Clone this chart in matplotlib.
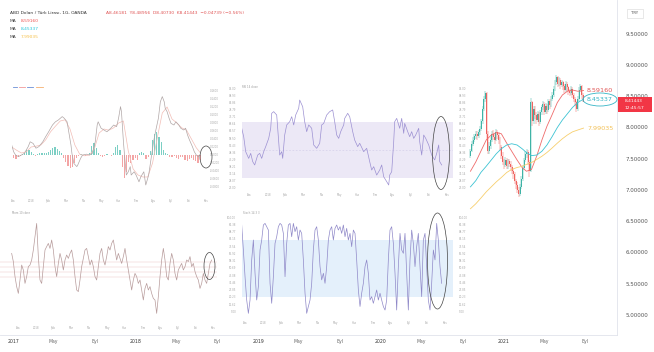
import matplotlib
matplotlib.use('Agg')
import matplotlib.pyplot as plt
import matplotlib.dates as mdates
from matplotlib.patches import Ellipse, Rectangle
from matplotlib.lines import Line2D
import numpy as np
import pandas as pd

W, H = 654, 352

# ------------------------------------------------------------------ data
header_title = "ABD Doları / Türk Lirası, 1G, OANDA"
header_ohlc = "A8.46181  Y8.48956  D8.40730  K8.41443  −0.04739 (−0.56%)"
last_price = 8.41443
last_time = "12:45:57"

price_start = '2020-09-24'          # candles every 4 days
price_first_open = 7.55
price_close = [7.62, 7.74,
               7.80, 7.86, 7.90, 7.86, 7.92, 7.97, 8.10, 8.30,
               8.45, 8.55, 7.90, 7.62, 7.70, 7.80, 7.90,
               7.85, 7.80, 7.92, 7.88, 7.80, 7.68, 7.55, 7.45,
               7.40, 7.48, 7.38, 7.46, 7.42, 7.36, 7.30, 7.25,
               7.15, 7.08, 7.00, 6.93, 7.05, 7.18, 7.35,
               7.48, 7.58, 7.60, 7.45, 7.30, 8.40, 8.10, 8.30,
               8.20, 8.12, 8.22, 8.08, 8.24, 8.32, 8.38,
               8.25, 8.35, 8.28, 8.42, 8.36, 8.46, 8.52, 8.62,
               8.72, 8.80, 8.70, 8.76, 8.68, 8.72, 8.66,
               8.60, 8.70, 8.64, 8.58, 8.55, 8.62, 8.52, 8.45,
               8.40, 8.30, 8.46, 8.60, 8.66, 8.52, 8.41]
price_high = [7.66, 7.78,
              7.84, 7.90, 7.95, 7.94, 7.96, 8.02, 8.14, 8.34,
              8.50, 8.58, 8.56, 7.95, 7.76, 7.85, 7.95,
              7.96, 7.90, 7.98, 7.96, 7.92, 7.84, 7.72, 7.60,
              7.50, 7.53, 7.52, 7.50, 7.50, 7.46, 7.40, 7.34,
              7.28, 7.18, 7.12, 7.04, 7.09, 7.22, 7.40,
              7.52, 7.62, 7.66, 7.64, 7.48, 8.47, 8.42, 8.34,
              8.35, 8.24, 8.27, 8.25, 8.28, 8.36, 8.42,
              8.40, 8.39, 8.38, 8.46, 8.45, 8.50, 8.56, 8.66,
              8.76, 8.84, 8.82, 8.80, 8.79, 8.76, 8.75,
              8.69, 8.74, 8.73, 8.67, 8.62, 8.66, 8.65, 8.55,
              8.48, 8.43, 8.50, 8.64, 8.70, 8.68, 8.55]
price_low = [7.52, 7.60,
             7.70, 7.76, 7.82, 7.80, 7.83, 7.88, 7.95, 8.06,
             8.26, 8.40, 7.80, 7.58, 7.58, 7.66, 7.76,
             7.80, 7.74, 7.78, 7.82, 7.74, 7.62, 7.50, 7.40,
             7.34, 7.36, 7.33, 7.34, 7.37, 7.30, 7.26, 7.18,
             7.10, 7.02, 6.95, 6.88, 6.90, 7.02, 7.15,
             7.32, 7.44, 7.52, 7.40, 7.20, 7.28, 8.02, 8.06,
             8.14, 8.06, 8.08, 8.02, 8.05, 8.20, 8.28,
             8.20, 8.22, 8.22, 8.25, 8.30, 8.33, 8.42, 8.49,
             8.58, 8.68, 8.64, 8.66, 8.62, 8.64, 8.60,
             8.55, 8.57, 8.58, 8.52, 8.50, 8.52, 8.47, 8.40,
             8.34, 8.25, 8.27, 8.43, 8.56, 8.46, 8.40]

ma_dates = ['2020-09-24', '2020-10-10', '2020-10-25', '2020-11-10', '2020-11-25',
            '2020-12-10', '2020-12-25', '2021-01-10', '2021-01-25', '2021-02-10',
            '2021-02-25', '2021-03-10', '2021-03-25', '2021-04-10', '2021-04-25',
            '2021-05-10', '2021-05-25', '2021-06-10', '2021-06-25', '2021-07-10',
            '2021-07-25', '2021-08-10', '2021-08-27']
ma_red = [7.30, 7.45, 7.62, 7.80, 7.88, 7.92, 7.90, 7.75, 7.62, 7.48, 7.36, 7.30,
          7.33, 7.55, 7.80, 8.02, 8.20, 8.40, 8.52, 8.58, 8.60, 8.58, 8.5916]
ma_cyan = [7.05, 7.15, 7.28, 7.38, 7.48, 7.58, 7.66, 7.72, 7.74, 7.72, 7.66, 7.60,
           7.55, 7.56, 7.62, 7.72, 7.85, 8.00, 8.12, 8.22, 8.32, 8.40, 8.45337]
ma_yellow = [6.70, 6.78, 6.87, 6.97, 7.05, 7.13, 7.20, 7.28, 7.33, 7.36, 7.38, 7.41,
             7.44, 7.49, 7.54, 7.60, 7.67, 7.75, 7.82, 7.88, 7.93, 7.96, 7.99035]
ma_labels = ["8.59160", "8.45337", "7.99035"]

price_ticks = [5.0, 5.5, 6.0, 6.5, 7.0, 7.5, 8.0, 8.5, 9.0, 9.5]
time_years = [2017, 2018, 2019, 2020, 2021]
time_month_labels = ["May", "Eyl"]

# inset: MACD (bar index, value)
macd_bars = [0, 2, 4, 7, 10, 13, 17, 19, 22, 25, 28, 32, 35, 38, 42, 45, 48, 52, 54, 57,
             59, 61, 62, 64, 67, 68, 71, 73, 77, 80, 83, 86, 88, 89, 92, 95, 98, 102, 105, 108,
             110, 112, 113, 115, 117, 118, 120, 122, 123, 126, 128, 131, 133, 136, 138, 141, 143, 146, 148, 151,
             153, 155, 157, 158, 160, 162, 164, 167, 169, 172, 174, 177, 179, 181, 183, 186, 188, 190, 192, 194]
macd_vals = [0.025, 0.008, 0.0, -0.004, 0.0, 0.004, 0.021, 0.033, 0.029, 0.017,
             0.021, 0.033, 0.046, 0.058, 0.075, 0.083, 0.0875, 0.096, 0.092, 0.083,
             0.054, 0.025, 0.004, -0.021, -0.029, -0.025, -0.008, 0.0, 0.002, 0.0,
             0.004, 0.033, 0.075, 0.083, 0.067, 0.0625, 0.058, 0.067, 0.075, 0.071,
             0.092, 0.121, 0.108, 0.033, -0.025, -0.05, -0.042, -0.029, -0.05, -0.042,
             -0.05, -0.067, -0.054, -0.042, -0.075, -0.05, -0.017, 0.033, 0.058, 0.092,
             0.133, 0.146, 0.133, 0.117, 0.108, 0.092, 0.079, 0.075, 0.083, 0.075,
             0.067, 0.0625, 0.067, 0.05, 0.0375, 0.021, 0.008, 0.0, -0.004, 0.0]
signal_bars = [0, 5, 10, 15, 20, 25, 30, 35, 40, 45, 50, 55, 60, 65, 70, 75, 80, 85, 90, 95,
               100, 105, 110, 115, 120, 125, 130, 135, 140, 145, 150, 155, 160, 165, 170, 175, 180, 185, 190, 194]
signal_vals = [0.02, 0.012, 0.005, 0.008, 0.02, 0.022, 0.025, 0.038, 0.058, 0.072,
               0.085, 0.088, 0.065, 0.025, 0.002, -0.002, 0.0, 0.015, 0.055, 0.065,
               0.062, 0.068, 0.08, 0.085, 0.01, -0.035, -0.05, -0.055, -0.055, -0.02,
               0.045, 0.105, 0.12, 0.09, 0.08, 0.068, 0.062, 0.04, 0.018, 0.006]
hist_vals = [-0.004, -0.008, -0.010, -0.006, -0.003, 0.002, 0.006, 0.012, 0.013, 0.008,
             0.002, -0.003, 0.002, 0.004, 0.005, 0.006, 0.004, 0.007, 0.012, 0.018,
             0.021, 0.016, 0.010, 0.004, -0.008, -0.018, -0.028, -0.033, -0.030, -0.020,
             -0.008, -0.002, 0.002, 0.001, -0.002, 0.001, 0.006, 0.022, 0.029, 0.018,
             0.004, -0.003, -0.004, -0.002, 0.003, 0.001, -0.002, 0.006, 0.020, 0.025,
             0.012, -0.030, -0.058, -0.042, -0.018, -0.021, -0.012, -0.008, -0.012, 0.004,
             0.008, 0.006, -0.010, -0.006, 0.010, 0.038, 0.052, 0.058, 0.046, 0.033,
             0.012, 0.006, 0.002, -0.004, -0.006, -0.003, -0.008, -0.010, -0.006, -0.004,
             -0.012, -0.015, -0.010, -0.008, -0.012, -0.016, -0.020, -0.012]

# inset: RSI (bar index, value)
rsi_bars = [0, 2, 4, 7, 9, 11, 13, 16, 18, 20, 22, 24, 27, 29, 30, 32, 35, 37, 38, 40,
            41, 43, 45, 48, 50, 52, 54, 57, 58, 61, 63, 65, 67, 70, 72, 75, 78, 80, 82, 85,
            88, 91, 93, 95, 97, 99, 102, 103, 106, 108, 111, 113, 116, 118, 122, 125, 128, 130, 132, 135,
            138, 140, 142, 145, 147, 148, 150, 152, 153, 155, 158, 160, 162, 163, 166, 168, 170, 172, 174, 177,
            178, 180, 182, 184, 187, 190, 193, 195, 197, 198, 200]
rsi_vals = [65.5, 59.5, 48.8, 44, 47.6, 41.7, 39.3, 46.4, 47.6, 44,
            48.8, 52.4, 58.3, 65.5, 76.2, 77.4, 75, 55.9, 46.4, 48.8,
            44, 60.7, 67.9, 70.2, 73.8, 67.9, 75, 79.8, 85.7, 80.9,
            70.2, 63.1, 67.9, 65.5, 53.6, 51.2, 54.8, 67.9, 69, 75,
            77.4, 78.6, 70.2, 60.7, 58.3, 63.1, 67.9, 72.6, 76.2, 73.8,
            63.1, 57.1, 52.4, 54.8, 48.8, 51.2, 41.7, 35.7, 38.1, 32.1,
            35.7, 39.3, 30.9, 27.4, 25, 32.1, 34.5, 55.9, 70.2, 72.6,
            65.5, 72.6, 61.9, 69, 63.1, 59.5, 63.1, 58.3, 60.7, 65.5,
            55.9, 46.4, 60.7, 58.3, 53.6, 46.4, 42.9, 47.6, 53.6, 41.7, 39.3]

# inset: momentum
mom_vals = [0.083, 0.042, -0.033, -0.083, -0.117, -0.05, 0.025, 0, -0.067, -0.033,
            0.017, 0.025, 0.05, 0.1, 0.167, 0.233, 0.067, -0.05, -0.067, 0.017,
            0.1, 0.117, 0.133, 0.108, 0.15, 0.1, 0.017, -0.033, 0.033, 0.083,
            0.05, 0, 0.05, 0.075, 0.058, 0.083, 0.1, 0.05, -0.033, -0.1,
            -0.108, -0.05, 0.017, 0.058, 0.1, 0.108, 0.067, 0.025, 0.05, 0.017,
            -0.033, -0.05, 0.017, 0.083, 0.108, 0.05, 0.025, 0.067, 0.117, 0.1,
            0.133, 0.15, 0.1, 0.05, 0.083, 0.058, 0.033, 0.067, 0.108, 0.05,
            0, -0.05, -0.1, -0.05, -0.017, -0.033, -0.067, -0.05, -0.1, -0.15,
            -0.092, -0.067, -0.1, -0.083, -0.117, -0.142, -0.15, -0.217, -0.133, -0.033,
            0.05, 0.108, 0.05, -0.033, -0.05, 0.033, 0.083, 0.05, -0.017, -0.05,
            0, 0.017, 0.033, 0, 0.017, 0.05, 0.042, 0.067, 0.017, 0.033,
            -0.008, -0.033, -0.05, -0.092, -0.067, -0.017, -0.05, -0.067, -0.017, 0.033,
            0.05]
mom_levels = [0.04, 0.015, -0.01, -0.035]

# inset: stochastic
stoch_vals = [95.8, 69.5, 41.4, 16.8, 2.8, 16.8, 59, 80, 45, 16.8,
              31, 69.5, 80, 95.8, 97.5, 94, 90.5, 34.4, 13.4, 41.4,
              76.5, 83.5, 94, 97.5, 95.8, 87, 41.4, 76.5, 95.8, 97.5,
              83.5, 97.5, 88.8, 94, 80, 90.5, 87, 59, 24, 2.8,
              10, 16.8, 34.4, 69.5, 90.5, 94, 80, 52, 38, 45,
              34.4, 52, 80, 90.5, 94, 80, 92.3, 95.8, 90.5, 94,
              87, 95.8, 83.5, 92.3, 80, 87, 73, 90.5, 87, 59,
              27.4, 10, 24, 34.4, 52, 59, 45, 16.8, 20.4, 13.4,
              20.4, 27.4, 16.8, 24, 16.8, 10, 6.3, 16.8, 59, 90.5,
              94, 76.5, 45, 6.3, 52, 87, 69.5, 66, 87, 45,
              6.3, 59, 90.5, 76.5, 52, 73, 87, 52, 20.4, 80,
              87, 52, 16.8, 6.3, 34.4, 69.5, 59, 97.5, 80, 52,
              34.4]

inset_months = ["Ara", "2018", "Şub", "Mar", "Nis", "May", "Haz", "Tem", "Ağu", "Eyl", "Eki", "Kas"]

# ------------------------------------------------------------------ figure
fig = plt.figure(figsize=(W / 100, H / 100), dpi=100)
fig.patch.set_facecolor('white')


def px_axes(x0, y0, x1, y1):
    ax = fig.add_axes([x0 / W, 1 - y1 / H, (x1 - x0) / W, (y1 - y0) / H])
    ax.patch.set_alpha(0)
    for s in ax.spines.values():
        s.set_visible(False)
    return ax


def ftext(x, y, s, **kw):
    fig.text(x / W, 1 - y / H, s, **kw)


# ---- main price axes
ax = px_axes(0, 0, 617, 335)
ax.patch.set_alpha(1)
ax.patch.set_facecolor('white')
base = mdates.date2num(pd.Timestamp('2017-01-01').to_pydatetime())
ax.set_xlim(base - 40.2, base + 1798.8)
ax.set_ylim(4.68, 10.04)
ax.spines['right'].set_visible(True)
ax.spines['bottom'].set_visible(True)
ax.spines['right'].set_color('#e0e3eb')
ax.spines['bottom'].set_color('#e0e3eb')
ax.spines['right'].set_linewidth(0.6)
ax.spines['bottom'].set_linewidth(0.6)

ax.yaxis.tick_right()
ax.set_yticks(price_ticks)
ax.set_yticklabels([f"{v:.5f}" for v in price_ticks])
ax.tick_params(axis='y', length=0, pad=6, labelsize=4.0, labelcolor='#555555')

tick_pos, tick_lab = [], []
for yr in time_years:
    tick_pos.append(mdates.date2num(pd.Timestamp(f'{yr}-01-01').to_pydatetime()))
    tick_lab.append(str(yr))
    for m, lab in zip([5, 9], time_month_labels):
        tick_pos.append(mdates.date2num(pd.Timestamp(f'{yr}-{m:02d}-01').to_pydatetime()))
        tick_lab.append(lab)
ax.set_xticks(tick_pos)
ax.set_xticklabels(tick_lab)
ax.tick_params(axis='x', length=0, pad=3, labelsize=3.3, labelcolor='#666666')
for t in ax.get_xticklabels():
    if t.get_text().isdigit():
        t.set_color('#333333')

# candles
pdates = mdates.date2num(pd.date_range(price_start, periods=len(price_close), freq='4D').to_pydatetime())
opens = [price_first_open] + price_close[:-1]
ccols = ['#3fb3a6' if c >= o else '#ef6461' for o, c in zip(opens, price_close)]
ax.vlines(pdates, price_low, price_high, colors=ccols, lw=0.35)
for xd, o, c, col in zip(pdates, opens, price_close, ccols):
    ax.bar(xd, max(abs(c - o), 0.012), bottom=min(o, c), width=2.7, color=col, linewidth=0)

mx = mdates.date2num(pd.to_datetime(ma_dates).to_pydatetime())
ma_cols = ['#ef6b6b', '#3cc3d3', '#f7cf6e']
for vals, col in zip([ma_red, ma_cyan, ma_yellow], ma_cols):
    ax.plot(mx, vals, color=col, lw=0.6)

lab_cols = ['#e05555', '#35b5c6', '#f2c056']
for vals, col, lab in zip([ma_red, ma_cyan, ma_yellow], lab_cols, ma_labels):
    ax.annotate(lab, xy=(mx[-1], vals[-1]), xytext=(2.5, 0), textcoords='offset points',
                fontsize=4.6, color=col, va='center', ha='left')

# cyan ellipse around the 100-MA label
fig.add_artist(Ellipse((600 / W, 1 - 99.5 / H), 34 / W, 13 / H, transform=fig.transFigure,
                       fill=False, ec='#35b5c6', lw=0.6))

# last price box
fig.add_artist(Rectangle((617.5 / W, 1 - 112 / H), 34 / W, 15 / H, transform=fig.transFigure,
                         fc='#f23645', ec='none'))
ftext(634, 101, f"{last_price:.5f}", fontsize=3.2, color='white', ha='center', va='center')
ftext(634, 108, last_time, fontsize=3.2, color='white', ha='center', va='center')

# TRY box
fig.add_artist(Rectangle((627 / W, 1 - 18 / H), 16 / W, 9.5 / H, transform=fig.transFigure,
                         fc='white', ec='#d6d6d6', lw=0.4))
ftext(635, 13.3, "TRY", fontsize=2.8, color='#555555', ha='center', va='center')

# header
ftext(10, 13, header_title, fontsize=3.2, color='#333333', va='center')
ftext(106, 13, header_ohlc, fontsize=3.2, color='#e05555', va='center')
for i, (lab, col) in enumerate(zip(ma_labels, ['#ef5350', '#26c6da', '#f5c04a'])):
    ftext(10, 21 + 8 * i, "MA", fontsize=3.2, color='#444444', va='center')
    ftext(21, 21 + 8 * i, lab, fontsize=3.2, color=col, va='center')


def tiny_ticks(a, xticks, xlabels, yticks=None, ylabels=None, left=False, right=False, ypad=1.0):
    a.set_xticks(xticks)
    a.set_xticklabels(xlabels)
    a.tick_params(axis='x', length=0, pad=1.0, labelsize=1.9, labelcolor='#a8a8a8')
    if yticks is not None:
        a.set_yticks(yticks)
        a.set_yticklabels(ylabels)
        a.tick_params(axis='y', length=0, pad=ypad, labelsize=1.9, labelcolor='#a8a8a8',
                      labelleft=left, labelright=right)
    else:
        a.set_yticks([])


# ---- inset TL: MACD
a1 = px_axes(11.7, 82, 206, 198)
a1.set_xlim(0, 194.3)
a1.set_ylim(-0.1075, 0.1825)
hx = np.linspace(0, 194, len(hist_vals))
a1.bar(hx, hist_vals, width=1.1, color=['#7ccfc4' if v >= 0 else '#f3a5a5' for v in hist_vals], linewidth=0)
a1.plot(signal_bars, signal_vals, color='#f2bdb6', lw=0.5)
a1.plot(macd_bars, macd_vals, color='#b0a6a6', lw=0.5)
tiny_ticks(a1, np.linspace(2, 200, 12), inset_months,
           np.linspace(-0.08, 0.16, 13), [f"{v:.4f}" for v in np.linspace(-0.08, 0.16, 13)],
           right=True, ypad=3)
for (x0, x1, c) in [(13, 17, '#6b8fd6'), (19, 25, '#f09a9a'), (27, 33, '#6b8fd6'), (36, 43, '#f5b070')]:
    fig.add_artist(Line2D([x0 / W, x1 / W], [1 - 87 / H] * 2, color=c, lw=0.6, transform=fig.transFigure))
fig.add_artist(Ellipse((206 / W, 1 - 157 / H), 12 / W, 22 / H, transform=fig.transFigure,
                       fill=False, ec='#444444', lw=0.5))

# ---- inset TM: RSI
a2 = px_axes(241.7, 80, 453, 192)
a2.set_xlim(0, 211.3)
a2.set_ylim(20, 100)
a2.axhspan(30, 70, color='#ece8f6', lw=0)
a2.axhline(50, color='#cfc8e6', lw=0.4, ls=(0, (3, 3)))
a2.plot(rsi_bars, rsi_vals, color='#9c90d2', lw=0.5)
yt2 = np.linspace(23, 94, 15)
tiny_ticks(a2, np.linspace(8, 205, 12), inset_months, yt2, [f"{v:.2f}" for v in yt2],
           left=True, right=True, ypad=4)
ftext(242, 87, "RSI 14 close", fontsize=1.9, color='#9a9a9a', va='center')
fig.add_artist(Ellipse((441 / W, 1 - 153 / H), 17 / W, 73 / H, transform=fig.transFigure,
                       fill=False, ec='#444444', lw=0.5))

# ---- inset BL: momentum
a3 = px_axes(0, 205, 217, 325)
a3.set_xlim(-7, 123.2)
a3.set_ylim(-0.275, 0.325)
for lv in mom_levels:
    a3.axhline(lv, color='#ecc9c9', lw=0.35)
a3.plot(np.arange(len(mom_vals)), mom_vals, color='#b79b9b', lw=0.5)
tiny_ticks(a3, np.linspace(4, 121, 12), inset_months)
ftext(12, 213, "Mom 10 close", fontsize=1.9, color='#9a9a9a', va='center')
fig.add_artist(Ellipse((209.5 / W, 1 - 266 / H), 11 / W, 27 / H, transform=fig.transFigure,
                       fill=False, ec='#444444', lw=0.5))

# ---- inset BM: stochastic
a4 = px_axes(241.7, 208, 453, 320)
a4.set_xlim(0, 126.8)
a4.set_ylim(-4.2, 113.7)
a4.axhspan(20, 80, color='#e4f0fb', lw=0)
a4.plot(np.arange(len(stoch_vals)), stoch_vals, color='#8f88c8', lw=0.5)
yt4 = np.linspace(5, 104, 14)
tiny_ticks(a4, np.linspace(2, 122, 12), inset_months, yt4, [f"{v:.2f}" for v in yt4],
           left=True, right=True, ypad=4)
ftext(243, 213, "Stoch 14 3 3", fontsize=1.9, color='#9a9a9a', va='center')
fig.add_artist(Ellipse((437.5 / W, 1 - 261 / H), 20 / W, 96 / H, transform=fig.transFigure,
                       fill=False, ec='#444444', lw=0.5))

fig.savefig('out.png', dpi=100, facecolor='white')
